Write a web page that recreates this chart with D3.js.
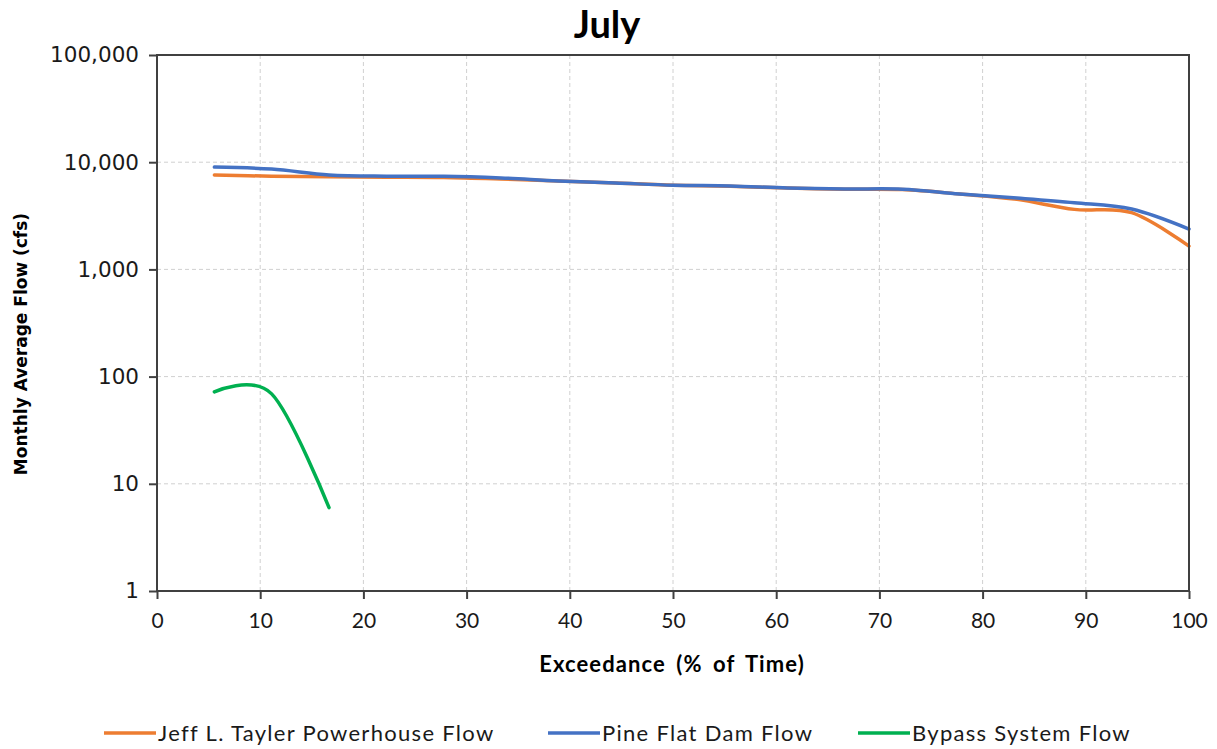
<!DOCTYPE html>
<html>
<head>
<meta charset="utf-8">
<script src="https://cdnjs.cloudflare.com/ajax/libs/d3/7.8.5/d3.min.js"></script>
<style>
  body { margin: 0; background: #fff; }
  svg { display: block; }
</style>
</head>
<body>
<div id="chart"></div>
<script>
"use strict";

// exceedance positions k/18 (17 years ranked + end point)
var exceedance = [5.56, 11.11, 16.67, 22.22, 27.78, 33.33, 38.89, 44.44, 50.0,
  55.56, 61.11, 66.67, 72.22, 77.78, 83.33, 88.89, 94.44, 100.0];
var tayler = [7600, 7400, 7300, 7250, 7200, 6970, 6680, 6400, 6100,
  5950, 5750, 5600, 5550, 5050, 4500, 3630, 3380, 1650];
var pineFlat = [9000, 8630, 7600, 7400, 7400, 7130, 6680, 6400, 6100,
  6000, 5750, 5620, 5600, 5050, 4630, 4190, 3660, 2380];
var bypass = [72, 69, 6];
var xTicks = [0, 10, 20, 30, 40, 50, 60, 70, 80, 90, 100];
var yTicks = [1, 10, 100, 1000, 10000, 100000];

var series = [
  {name: "Jeff L. Tayler Powerhouse Flow", color: "#ED7D31", values: tayler},
  {name: "Pine Flat Dam Flow", color: "#4472C4", values: pineFlat},
  {name: "Bypass System Flow", color: "#00B050", values: bypass}
];

var width = 1217, height = 749;
var margin = {top: 55, right: 28, bottom: 158, left: 157};

var svg = d3.select("#chart").append("svg")
  .attr("width", width)
  .attr("height", height);

var x = d3.scaleLinear().domain([0, 100]).range([margin.left, width - margin.right]);
var y = d3.scaleLog().domain([1, 100000]).range([height - margin.bottom, margin.top]);

// grid
var grid = svg.append("g")
  .attr("stroke", "#d0d0d0")
  .attr("stroke-width", 1)
  .attr("stroke-dasharray", "4,3");
grid.selectAll("line.v")
  .data(xTicks.slice(1, -1))
  .enter().append("line")
  .attr("x1", d => x(d)).attr("x2", d => x(d))
  .attr("y1", y(1)).attr("y2", y(100000));
grid.selectAll("line.h")
  .data(yTicks.slice(1, -1))
  .enter().append("line")
  .attr("x1", x(0)).attr("x2", x(100))
  .attr("y1", d => y(d)).attr("y2", d => y(d));

// lines
var line = d3.line()
  .x((d, i) => x(exceedance[i]))
  .y(d => y(d))
  .curve(d3.curveCatmullRom.alpha(0));

svg.append("g")
  .selectAll("path")
  .data(series)
  .enter().append("path")
  .attr("fill", "none")
  .attr("stroke", d => d.color)
  .attr("stroke-width", 3.5)
  .attr("stroke-linecap", "round")
  .attr("d", d => line(d.values));

// frame
svg.append("rect")
  .attr("x", x(0)).attr("y", y(100000))
  .attr("width", x(100) - x(0)).attr("height", y(1) - y(100000))
  .attr("fill", "none")
  .attr("stroke", "#404040")
  .attr("stroke-width", 2);

// axes
var yAxis = svg.append("g")
  .attr("transform", "translate(" + x(0) + ",0)")
  .call(d3.axisLeft(y).tickValues(yTicks).tickFormat(d3.format(",")).tickSize(8).tickPadding(10));
yAxis.select(".domain").remove();
yAxis.selectAll(".tick line").attr("stroke", "#404040").attr("stroke-width", 2);
yAxis.selectAll("text")
  .attr("fill", "#1a1a1a")
  .style("font-family", "'DejaVu Sans', Verdana, sans-serif")
  .style("font-size", "21.5px");

var xAxis = svg.append("g")
  .attr("transform", "translate(0," + y(1) + ")")
  .call(d3.axisBottom(x).tickValues(xTicks).tickSize(8).tickPadding(14));
xAxis.select(".domain").remove();
xAxis.selectAll(".tick line").attr("stroke", "#404040").attr("stroke-width", 2);
xAxis.selectAll("text")
  .attr("fill", "#1a1a1a")
  .style("font-family", "Lato, 'Open Sans', sans-serif")
  .style("font-size", "21px");

// titles
svg.append("text")
  .attr("x", (x(0) + x(100)) / 2 - 66)
  .attr("y", 38)
  .attr("text-anchor", "middle")
  .style("font-family", "Lato, 'Open Sans', sans-serif")
  .style("font-weight", "bold")
  .style("font-size", "38px")
  .text("July");

svg.append("text")
  .attr("x", 672)
  .attr("y", 672)
  .attr("text-anchor", "middle")
  .style("font-family", "Lato, 'Open Sans', sans-serif")
  .style("font-weight", "bold")
  .style("font-size", "22px")
  .style("letter-spacing", "1.1px")
  .style("word-spacing", "4px")
  .text("Exceedance (% of Time)");

svg.append("text")
  .attr("transform", "translate(27,344) rotate(-90)")
  .attr("text-anchor", "middle")
  .style("font-family", "'DejaVu Sans', Verdana, sans-serif")
  .style("font-weight", "bold")
  .style("font-size", "17px")
  .text("Monthly Average Flow (cfs)");

// legend
var legendX = [104, 548, 858];
var legend = svg.append("g")
  .selectAll("g")
  .data(series)
  .enter().append("g")
  .attr("transform", (d, i) => "translate(" + legendX[i] + ",733)");
legend.append("line")
  .attr("x1", 0).attr("x2", 52)
  .attr("stroke", d => d.color)
  .attr("stroke-width", 3.5);
legend.append("text")
  .attr("x", 54)
  .attr("dy", "0.35em")
  .style("font-family", "Lato, 'Open Sans', sans-serif")
  .style("font-size", "22px")
  .style("letter-spacing", "1.3px")
  .attr("fill", "#1a1a1a")
  .text(d => d.name);
</script>
</body>
</html>
